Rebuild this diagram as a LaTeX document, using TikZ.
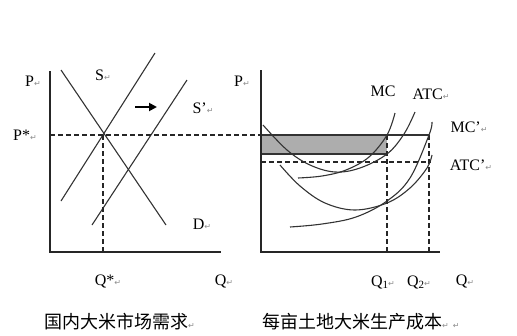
\documentclass[tikz,border=0pt]{standalone}
\usepackage{fontspec}
\setmainfont{Liberation Serif}
\newfontfamily\cjk{Noto Sans CJK SC}
\newfontfamily\symf{DejaVu Sans}
\usetikzlibrary{arrows.meta}
\newcommand{\retmark}{{\symf\color{black!45}\fontsize{8}{8}\selectfont ↵}}
\newcommand{\subn}[1]{\raisebox{-2pt}{\fontsize{11}{11}\selectfont #1}}
\begin{document}
\begin{tikzpicture}[x=1pt,y=-1pt,
  lab/.style={font=\fontsize{16}{16}\selectfont, inner sep=0pt},
  ttl/.style={font=\cjk\fontsize{18}{18}\selectfont, inner sep=0pt},
  axis/.style={line width=1.3pt, black!85},
  curve/.style={line width=1.1pt, black!80},
  guide/.style={line width=1.1pt, dash pattern=on 5pt off 3pt, black!85}]
\useasboundingbox (0,0) rectangle (517,335);
% ---------- left chart ----------
\coordinate (LO) at (50,252);
\coordinate (LT) at (50,71);
\coordinate (LR) at (221,252);
\draw[axis] (LT) -- (LO) -- (LR);
\coordinate (S1) at (61,201);
\coordinate (S2) at (155,53);
\coordinate (Sp1) at (92,225);
\coordinate (Sp2) at (187,80);
\coordinate (D1) at (61,70);
\coordinate (D2) at (166,225);
\draw[curve] (S1) -- (S2);
\draw[curve] (Sp1) -- (Sp2);
\draw[curve] (D1) -- (D2);
\coordinate (E) at (103,135);
\coordinate (EQ) at (103,252);
\draw[guide] (E) -- (EQ);
\coordinate (PL) at (50,135);
\coordinate (PR) at (261,135);
\draw[guide] (PL) -- (PR);
\coordinate (A1) at (135,107);
\coordinate (A2) at (157,107);
\draw[line width=1.8pt, -{Triangle[length=8pt,width=8pt]}] (A1) -- (A2);
\node[lab] (lP) at (33,81) {P\retmark};
\node[lab] (lPs) at (25,135) {P*\retmark};
\node[lab] (lS) at (103,75) {S\retmark};
\node[lab] (lSp) at (203,108) {S'\retmark};
\node[lab] (lD) at (202,224) {D\retmark};
\node[lab] (lQs) at (108,281) {Q*\retmark};
\node[lab] (lQ) at (224,281) {Q\retmark};
% ---------- right chart ----------
\coordinate (RO) at (261,252);
\coordinate (RT) at (261,70);
\coordinate (RR) at (440,252);
\coordinate (B1) at (261,135);
\coordinate (B2) at (387,154);
\fill[black!32] (B1) rectangle (B2);
\coordinate (PT2) at (429,135);
\draw[line width=1.1pt, black!80] (B1) -- (PT2);
\coordinate (BL) at (261,154);
\draw[line width=1.1pt, black!80] (BL) -- (B2);
\coordinate (DL) at (261,162);
\coordinate (DR) at (431,162);
\draw[guide] (DL) -- (DR);
\coordinate (Q1t) at (387,135);
\coordinate (Q1b) at (387,252);
\coordinate (Q2b) at (429,252);
\draw[guide] (Q1t) -- (Q1b);
\draw[guide] (PT2) -- (Q2b);
\draw[axis] (RT) -- (RO) -- (RR);
% ATC
\draw[curve] plot[smooth, tension=0.6] coordinates {(263,125) (287,150) (310,165) (335,172) (360,168) (387,154) (404,134) (415,112)};
% MC
\draw[curve] plot[smooth, tension=0.6] coordinates {(298,178) (322,176) (346,170) (369,157) (387,135) (395,113)};
% ATC'
\draw[curve] plot[smooth, tension=0.6] coordinates {(280,165) (300,186) (325,203) (355,210) (387,203) (410,188) (427,168) (432,155)};
% MC'
\draw[curve] plot[smooth, tension=0.6] coordinates {(290,227) (322,224) (356,217) (387,201) (410,178) (429,135) (432,122)};
\node[lab] (rP) at (242,81) {P\retmark};
\node[lab] (rMC) at (383,91) {MC};
\node[lab] (rATC) at (431,94) {ATC\retmark};
\node[lab] (rMCp) at (469,127) {MC'\retmark};
\node[lab] (rATCp) at (471,165) {ATC'\retmark};
\node[lab] (rQ1) at (383,282) {Q\subn{1}\retmark};
\node[lab] (rQ2) at (419,282) {Q\subn{2}\retmark};
\node[lab] (rQ) at (465,281) {Q\retmark};
% ---------- titles ----------
\node[ttl, anchor=west] (t1) at (44,322) {国内大米市场需求\retmark};
\node[ttl, anchor=west] (t2) at (262,322) {每亩土地大米生产成本\retmark\ \retmark};
\end{tikzpicture}
\end{document}
